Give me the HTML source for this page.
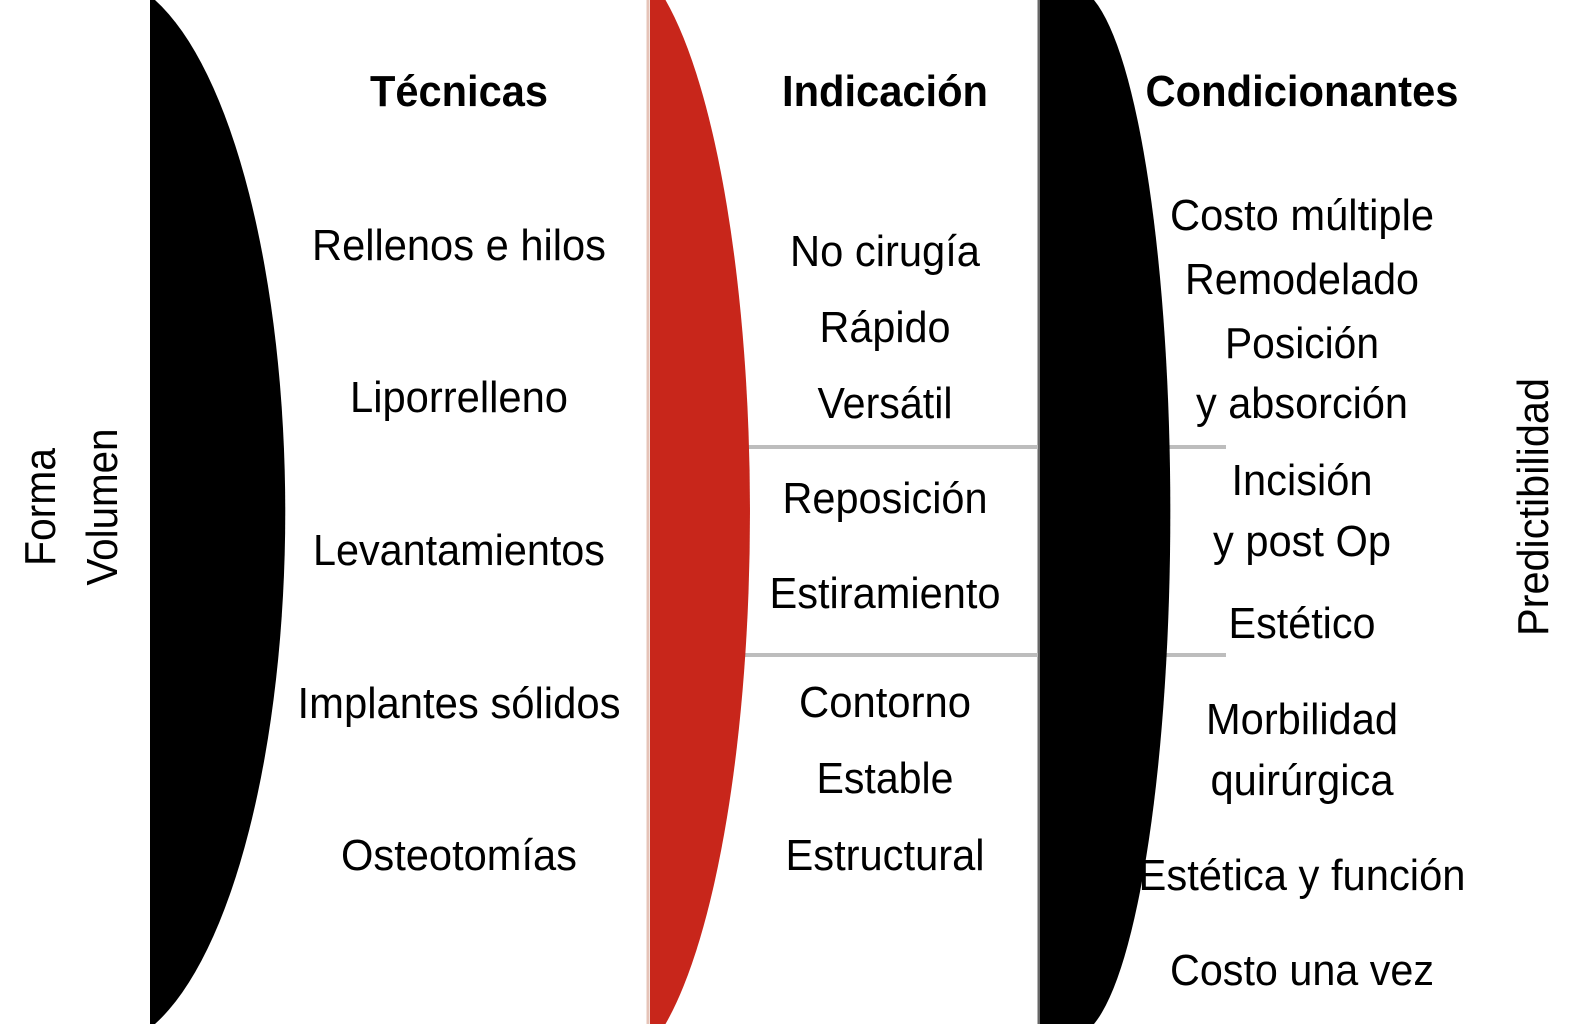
<!DOCTYPE html>
<html><head><meta charset="utf-8"><style>
html,body{margin:0;padding:0;background:#fff;}
svg{display:block;}
text{font-family:"Liberation Sans",Arial,sans-serif;fill:#000;}
</style></head><body>
<svg width="1582" height="1024" viewBox="0 0 1582 1024" xmlns="http://www.w3.org/2000/svg">
<rect width="1582" height="1024" fill="#fff"/>
<line x1="648" y1="0" x2="648" y2="1024" stroke="#e6c4b8" stroke-width="3"/>
<line x1="1039" y1="0" x2="1039" y2="1024" stroke="#666" stroke-width="3"/>
<g stroke="#bdbdbd" stroke-width="4">
<line x1="740" y1="447" x2="1038" y2="447"/>
<line x1="1160" y1="447" x2="1226" y2="447"/>
<line x1="740" y1="655" x2="1038" y2="655"/>
<line x1="1160" y1="655" x2="1226" y2="655"/>
</g>
<path d="M150,0 L155,0 A185,536 0 0 1 155,1024 L150,1024 Z" fill="#000"/>
<path d="M650,0 L665.5,0 A142,560 0 0 1 665.5,1024 L650,1024 Z" fill="#c8261b"/>
<path d="M1040,0 L1094,0 A98,525 0 0 1 1094,1024 L1040,1024 Z" fill="#000"/>
<g font-size="44" text-anchor="middle">
<text x="459" y="106" font-weight="bold" textLength="178" lengthAdjust="spacingAndGlyphs">Técnicas</text>
<text x="885" y="106" font-weight="bold" textLength="206" lengthAdjust="spacingAndGlyphs">Indicación</text>
<text x="1302" y="106" font-weight="bold" textLength="313" lengthAdjust="spacingAndGlyphs">Condicionantes</text>
<text x="459" y="260" textLength="294" lengthAdjust="spacingAndGlyphs">Rellenos e hilos</text>
<text x="459" y="412" textLength="218" lengthAdjust="spacingAndGlyphs">Liporrelleno</text>
<text x="459" y="565" textLength="292" lengthAdjust="spacingAndGlyphs">Levantamientos</text>
<text x="459" y="718" textLength="323" lengthAdjust="spacingAndGlyphs">Implantes sólidos</text>
<text x="459" y="870" textLength="236" lengthAdjust="spacingAndGlyphs">Osteotomías</text>
<text x="885" y="266" textLength="190" lengthAdjust="spacingAndGlyphs">No cirugía</text>
<text x="885" y="342" textLength="131" lengthAdjust="spacingAndGlyphs">Rápido</text>
<text x="885" y="418" textLength="135" lengthAdjust="spacingAndGlyphs">Versátil</text>
<text x="885" y="513" textLength="205" lengthAdjust="spacingAndGlyphs">Reposición</text>
<text x="885" y="608" textLength="231" lengthAdjust="spacingAndGlyphs">Estiramiento</text>
<text x="885" y="717" textLength="172" lengthAdjust="spacingAndGlyphs">Contorno</text>
<text x="885" y="793" textLength="137" lengthAdjust="spacingAndGlyphs">Estable</text>
<text x="885" y="870" textLength="199" lengthAdjust="spacingAndGlyphs">Estructural</text>
<text x="1302" y="230" textLength="264" lengthAdjust="spacingAndGlyphs">Costo múltiple</text>
<text x="1302" y="294" textLength="234" lengthAdjust="spacingAndGlyphs">Remodelado</text>
<text x="1302" y="358" textLength="154" lengthAdjust="spacingAndGlyphs">Posición</text>
<text x="1302" y="418" textLength="212" lengthAdjust="spacingAndGlyphs">y absorción</text>
<text x="1302" y="495" textLength="141" lengthAdjust="spacingAndGlyphs">Incisión</text>
<text x="1302" y="556" textLength="178" lengthAdjust="spacingAndGlyphs">y post Op</text>
<text x="1302" y="638" textLength="147" lengthAdjust="spacingAndGlyphs">Estético</text>
<text x="1302" y="734" textLength="192" lengthAdjust="spacingAndGlyphs">Morbilidad</text>
<text x="1302" y="795" textLength="183" lengthAdjust="spacingAndGlyphs">quirúrgica</text>
<text x="1302" y="890" textLength="327" lengthAdjust="spacingAndGlyphs">Estética y función</text>
<text x="1302" y="985" textLength="264" lengthAdjust="spacingAndGlyphs">Costo una vez</text>
<text transform="translate(55,507) rotate(-90)" x="0" y="0" textLength="118" lengthAdjust="spacingAndGlyphs">Forma</text>
<text transform="translate(117,507) rotate(-90)" x="0" y="0" textLength="157" lengthAdjust="spacingAndGlyphs">Volumen</text>
<text transform="translate(1548,507) rotate(-90)" x="0" y="0" textLength="258" lengthAdjust="spacingAndGlyphs">Predictibilidad</text>
</g>
</svg>
</body></html>
